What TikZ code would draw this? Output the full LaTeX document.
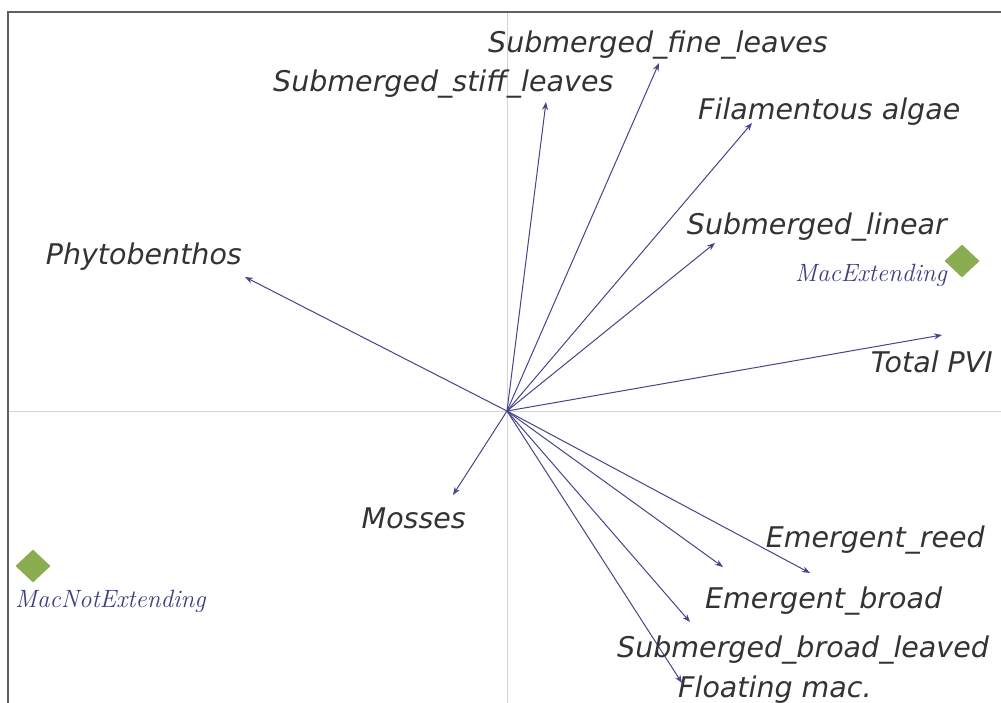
\documentclass[tikz,border=0pt]{standalone}
\usepackage{fontspec}
\setsansfont{DejaVu Sans}
\usetikzlibrary{arrows.meta,shapes.geometric}
\definecolor{arrowc}{HTML}{45458C}
\definecolor{labc}{HTML}{333333}
\definecolor{macc}{HTML}{3E3E80}
\definecolor{diamc}{HTML}{8BAD52}
\definecolor{framec}{HTML}{606060}
\definecolor{axisc}{HTML}{D4D4D4}
\begin{document}
\begin{tikzpicture}[x=1pt,y=-1pt,
  vec/.style={draw=arrowc, line width=1pt, -{Stealth[length=8pt,width=6pt]}},
  vlab/.style={font=\sffamily\itshape\fontsize{28.5}{28.5}\selectfont, text=labc, inner sep=0pt},
  mlab/.style={font=\itshape\fontsize{25}{25}\selectfont, text=macc, inner sep=0pt},
  site/.style={diamond, fill=diamc, inner sep=0pt, minimum width=35pt, minimum height=33pt}]
\useasboundingbox (0,0) rectangle (1001,703);
\fill[white] (0,0) rectangle (1001,703);
\begin{scope}
\clip (0,0) rectangle (1001,703);
\draw[framec, line width=1.6pt] (8,12) rectangle (1030,730);
\end{scope}
\draw[axisc, line width=0.8pt] (507,13) -- (507,703);
\draw[axisc, line width=0.8pt] (9,411) -- (1001,411);
\coordinate (o) at (507,411);
\coordinate (tfine) at (659,63);
\coordinate (tstiff) at (546,102);
\coordinate (tfil) at (752,123);
\coordinate (tlin) at (715,243);
\coordinate (tphy) at (245,277);
\coordinate (tpvi) at (942,335);
\coordinate (tmos) at (453,495);
\coordinate (treed) at (810,573);
\coordinate (tbroad) at (723,567);
\coordinate (tsbl) at (690,622);
\coordinate (tflo) at (682,683);
\draw[vec] (o) -- (tfine);
\draw[vec] (o) -- (tstiff);
\draw[vec] (o) -- (tfil);
\draw[vec] (o) -- (tlin);
\draw[vec] (o) -- (tphy);
\draw[vec] (o) -- (tpvi);
\draw[vec] (o) -- (tmos);
\draw[vec] (o) -- (treed);
\draw[vec] (o) -- (tbroad);
\draw[vec] (o) -- (tsbl);
\draw[vec] (o) -- (tflo);
\node[vlab, anchor=base east] (lfine) at (828,53) {Submerged\_fine\_leaves};
\node[vlab, anchor=base west] (lstiff) at (273,92) {Submerged\_stiff\_leaves};
\node[vlab, anchor=base west] (lfil) at (698,120) {Filamentous algae};
\node[vlab, anchor=base east] (llin) at (947,235) {Submerged\_linear};
\node[vlab, anchor=base east] (lphy) at (242,265) {Phytobenthos};
\node[vlab, anchor=base east] (lpvi) at (993,372) {Total PVI};
\node[vlab, anchor=base east] (lmos) at (466,528) {Mosses};
\node[vlab, anchor=base east] (lreed) at (985,547) {Emergent\_reed};
\node[vlab, anchor=base west] (lbroad) at (705,608) {Emergent\_broad};
\node[vlab, anchor=base west] (lsbl) at (617,657) {Submerged\_broad\_leaved};
\node[vlab, anchor=base west] (lflo) at (678,697) {Floating mac.};
\node[site] (macext) at (962,261) {};
\node[site] (macnot) at (33,566) {};
\node[mlab, anchor=base east] (lmacext) at (947,282) {MacExtending};
\node[mlab, anchor=base west] (lmacnot) at (15,607) {MacNotExtending};
\end{tikzpicture}
\end{document}
